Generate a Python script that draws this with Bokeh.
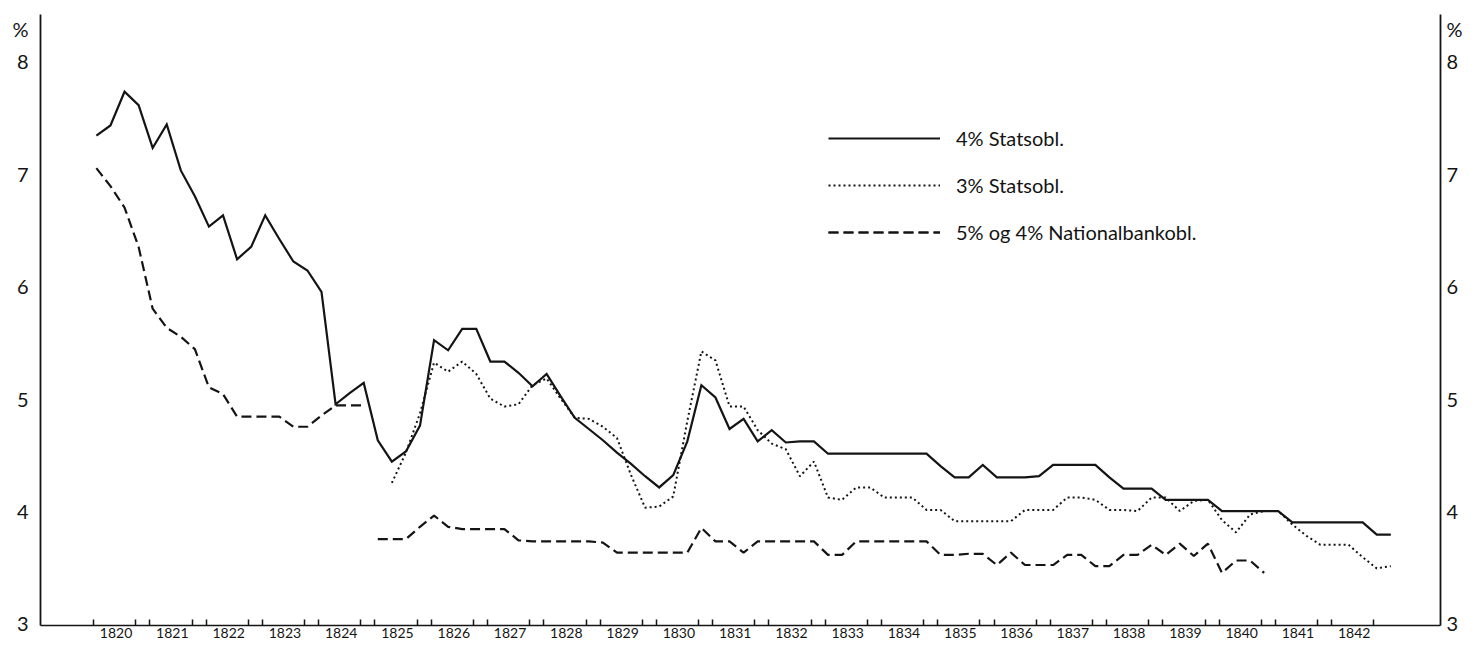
import numpy as np
from bokeh.plotting import figure
from bokeh.models import (Range1d, LinearAxis, FixedTicker, CustomJSTickFormatter,
                          Legend, LegendItem)
from bokeh.embed import file_html
from bokeh.resources import INLINE

FONT = "Lato"

# ---- data (quarterly observations, effective yield in %) ----
years = list(range(1820, 1843))            # year labels on the x axis
y_ticks = [3, 4, 5, 6, 7, 8]
unit_label = "%"

# 4% Statsobl.  1820 Q1 ... 1843 Q1
stat4_start = 1820.0
stat4 = [7.34, 7.43, 7.73, 7.61, 7.23, 7.44, 7.03, 6.80, 6.53, 6.63,
         6.24, 6.35, 6.63, 6.42, 6.22, 6.14, 5.95, 4.95, 5.05, 5.14,
         4.63, 4.44, 4.53, 4.76, 5.52, 5.43, 5.62, 5.62, 5.33, 5.33,
         5.23, 5.11, 5.22, 5.02, 4.83, 4.73, 4.63, 4.52, 4.42, 4.31,
         4.21, 4.32, 4.62, 5.12, 5.01, 4.73, 4.82, 4.62, 4.72, 4.61,
         4.62, 4.62, 4.51, 4.51, 4.51, 4.51, 4.51, 4.51, 4.51, 4.51,
         4.40, 4.30, 4.30, 4.41, 4.30, 4.30, 4.30, 4.31, 4.41, 4.41,
         4.41, 4.41, 4.30, 4.20, 4.20, 4.20, 4.10, 4.10, 4.10, 4.10,
         4.00, 4.00, 4.00, 4.00, 4.00, 3.90, 3.90, 3.90, 3.90, 3.90,
         3.90, 3.79, 3.79]

# 3% Statsobl.  from 1825 Q2
stat3_start = 1825.25
stat3 = [4.25, 4.52, 4.87, 5.32, 5.24, 5.33, 5.22, 5.00, 4.93, 4.95,
         5.12, 5.18, 5.00, 4.83, 4.82, 4.75, 4.65, 4.32, 4.03, 4.04,
         4.13, 4.80, 5.42, 5.34, 4.93, 4.93, 4.72, 4.60, 4.55, 4.31,
         4.44, 4.12, 4.10, 4.21, 4.21, 4.12, 4.12, 4.12, 4.01, 4.01,
         3.91, 3.91, 3.91, 3.91, 3.91, 4.01, 4.01, 4.01, 4.12, 4.12,
         4.10, 4.01, 4.01, 4.00, 4.12, 4.12, 4.00, 4.09, 4.10, 3.92,
         3.81, 3.97, 4.00, 4.00, 3.88, 3.78, 3.70, 3.70, 3.70, 3.59,
         3.49, 3.51]

# 5% Nationalbankobl.  1820 Q1 ... 1824 Q4
nb5_start = 1820.0
nb5 = [7.05, 6.89, 6.70, 6.35, 5.80, 5.63, 5.55, 5.44, 5.10, 5.04,
       4.84, 4.84, 4.84, 4.84, 4.75, 4.75, 4.85, 4.94, 4.94, 4.94]

# 4% Nationalbankobl.  1825 Q1 ... 1840 Q4
nb4_start = 1825.0
nb4 = [3.75, 3.75, 3.75, 3.86, 3.96, 3.86, 3.84, 3.84, 3.84, 3.84,
       3.74, 3.73, 3.73, 3.73, 3.73, 3.73, 3.72, 3.63, 3.63, 3.63,
       3.63, 3.63, 3.63, 3.85, 3.73, 3.73, 3.63, 3.73, 3.73, 3.73,
       3.73, 3.73, 3.61, 3.61, 3.73, 3.73, 3.73, 3.73, 3.73, 3.73,
       3.61, 3.61, 3.62, 3.62, 3.52, 3.63, 3.52, 3.52, 3.52, 3.61,
       3.61, 3.51, 3.51, 3.61, 3.61, 3.70, 3.61, 3.71, 3.60, 3.71,
       3.45, 3.56, 3.56, 3.45]

labels = ["4% Statsobl.", "3% Statsobl.", "5% og 4% Nationalbankobl."]


def quarters(start, vals):
    return [start + 0.25 * i for i in range(len(vals))]


W, H = 1465, 644
p = figure(width=W, height=H, output_backend="svg", toolbar_location=None,
           x_range=Range1d(1819.007, 1843.883), y_range=Range1d(2.982, 8.417),
           min_border_left=40, min_border_right=22, min_border_top=14,
           min_border_bottom=19)
p.outline_line_color = None
p.xgrid.visible = False
p.ygrid.visible = False
p.background_fill_color = "white"
p.border_fill_color = "white"

INK = "#141414"

r_s4 = p.line(quarters(stat4_start, stat4), stat4, line_color=INK, line_width=2.2,
              line_join="miter")
r_s3 = p.line(quarters(stat3_start, stat3), stat3, line_color=INK, line_width=2.0,
              line_dash="2 3")
r_n5 = p.line(quarters(nb5_start, nb5), nb5, line_color=INK, line_width=2.2,
              line_dash="10 5")
r_n4 = p.line(quarters(nb4_start, nb4), nb4, line_color=INK, line_width=2.2,
              line_dash="10 5")

# x axis
label_pos = [y + 0.35 for y in years]
tick_marks = [y - 0.05 for y in years] + [y + 0.70 for y in years]
xa = p.xaxis[0]
xa.ticker = FixedTicker(ticks=label_pos, minor_ticks=tick_marks)
xa.formatter = CustomJSTickFormatter(code="return Math.floor(tick).toString();")
xa.major_tick_line_color = None
xa.major_tick_out = 0
xa.major_tick_in = 0
xa.minor_tick_line_color = INK
xa.minor_tick_line_width = 1.5
xa.minor_tick_in = 6
xa.minor_tick_out = 0
xa.axis_line_color = INK
xa.axis_line_width = 1.6
xa.major_label_text_font = FONT
xa.major_label_text_font_size = "14px"
xa.major_label_text_color = INK
xa.major_label_standoff = 2

# y axes: tick values 3..8, plus the unit sign at the top
y_unit_pos = 8.29
y_formatter = CustomJSTickFormatter(
    args=dict(unit=unit_label),
    code="return tick > 8.1 ? unit : tick.toFixed(0);")


def style_y(ax, standoff):
    ax.ticker = FixedTicker(ticks=y_ticks + [y_unit_pos])
    ax.formatter = y_formatter
    ax.major_tick_line_color = None
    ax.major_tick_out = 0
    ax.major_tick_in = 0
    ax.minor_tick_line_color = None
    ax.axis_line_color = INK
    ax.axis_line_width = 1.8
    ax.major_label_text_font = FONT
    ax.major_label_text_font_size = "20px"
    ax.major_label_text_color = INK
    ax.major_label_standoff = standoff


style_y(p.yaxis[0], 12)
ra = LinearAxis()
style_y(ra, 6)
p.add_layout(ra, "right")

legend = Legend(items=[LegendItem(label=labels[0], renderers=[r_s4]),
                       LegendItem(label=labels[1], renderers=[r_s3]),
                       LegendItem(label=labels[2], renderers=[r_n5, r_n4])],
                location=(788, 381), orientation="vertical",
                glyph_width=112, glyph_height=24, label_height=24, spacing=23,
                padding=0, margin=0, label_standoff=16,
                border_line_color=None, background_fill_alpha=0,
                label_text_font=FONT, label_text_font_size="20px",
                label_text_color=INK)
p.add_layout(legend)

open("out.html", "w").write(file_html(p, INLINE))
